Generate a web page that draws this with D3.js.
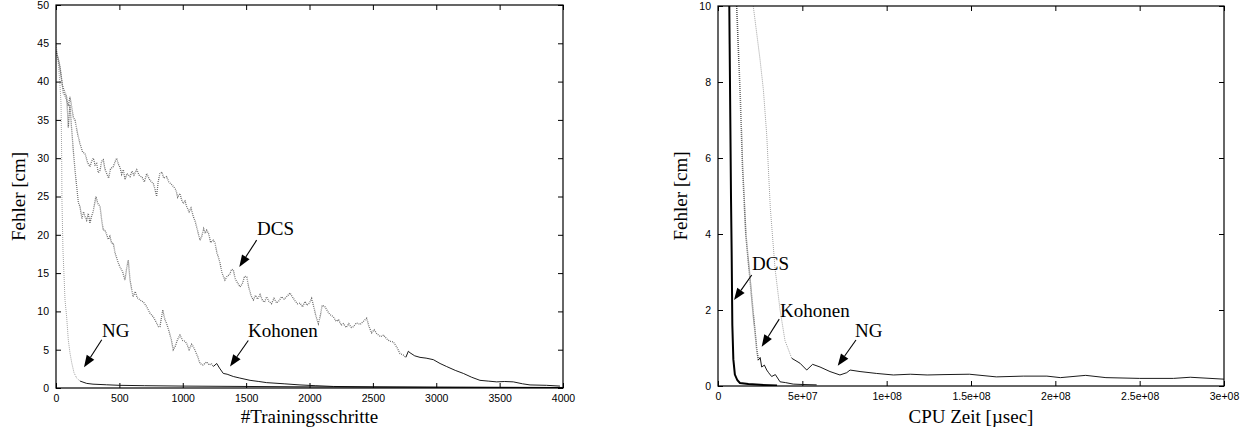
<!DOCTYPE html>
<html>
<head>
<meta charset="utf-8">
<script src="https://cdn.jsdelivr.net/npm/d3@7"></script>
<style>
  body { margin: 0; background: #fff; }
  .tick text { font-family: "Liberation Sans", Arial, sans-serif; font-size: 10.5px; fill: #000; }
  .lbl { font-family: "Liberation Serif", "Times New Roman", serif; font-size: 19px; fill: #000; }
</style>
</head>
<body>
<div id="chart"></div>
<script>
// ---- data ----
// left panel: error [cm] over training steps
var ngTrain = [[0,45],[15,43],[30,40],[40,37],[45,30],[47,24.5],[55,18],[65,14],[71,11.5],[84,9.3],[97,6.3],[110,4.6],
  [124,3.3],[142,2.0],[163,1.3],[190,0.9],[242,0.6],[292,0.5],[400,0.42],[500,0.35],[700,0.3],[1000,0.25],[1500,0.2],
  [2000,0.15],[2500,0.12],[3000,0.1],[3500,0.08],[4000,0.07]]
var kohTrain = [[0,44],[25,42.5],[50,39.5],[70,38.6],[85,38],[97,34],[110,37],[120,34.5],[136,31.1],[150,28.5],
  [163,26.3],[176,24.2],[189,23.7],[205,22.1],[217,23.0],[229,22.4],[242,21.9],[255,22.8],[268,21.5],[280,22.4],
  [293,23],[304,24.0],[315,25],[330,24.1],[347,23.7],[360,22.0],[373,20.6],[387,20.6],[400,20.0],[412,19.4],
  [425,19.8],[439,18.9],[452,18.9],[465,17.7],[480,16.9],[492,16.3],[505,15.8],[525,15.2],[544,14.1],[557,15.6],
  [570,16.7],[585,14.0],[608,11.9],[625,12.6],[640,11.8],[663,11.5],[690,11.2],[716,10.6],[740,9.8],[767,9.3],
  [790,8.6],[808,8.0],[820,8.0],[842,10.2],[858,9.0],[873,8.4],[890,7.5],[910,6.3],[925,5.0],[940,5.4],[958,6.3],
  [978,6.9],[1000,6.2],[1018,6.1],[1031,5.8],[1050,5.0],[1070,5.7],[1083,5.4],[1100,4.8],[1120,4.0],[1136,3.2],
  [1160,3.0],[1189,3.4],[1210,3.0],[1225,3.2],[1241,2.8],[1268,3.2],[1290,2.6],[1320,1.9],[1350,1.8],[1399,1.5],
  [1450,1.3],[1531,1.0],[1600,0.85],[1662,0.7],[1800,0.55],[1925,0.4],[2050,0.3],[2188,0.2],[2500,0.15],[3000,0.1],
  [3500,0.08],[4000,0.06]]
var dcsTrain = [[0,44],[32,41.9],[58,38.5],[70,38.2],[84,37.6],[97,36.8],[110,38],[124,36.7],[137,35.3],[150,35],
  [170,33.2],[189,31.9],[210,30.8],[229,30.6],[250,29.4],[268,28.9],[281,29.6],[295,30],[308,29.1],[321,29.3],
  [334,28.1],[347,28.4],[360,29.6],[373,29.8],[386,28.6],[400,28],[415,27.4],[430,28.6],[452,28.9],[465,29.5],
  [479,30],[492,29.2],[505,28.8],[518,27.9],[531,28.5],[545,27.2],[560,28.0],[584,27.6],[600,28.3],[615,27.8],
  [637,28.5],[655,27.8],[680,27.5],[697,26.9],[716,28],[735,27.3],[752,26.9],[768,26.7],[780,26.0],[794,25],
  [807,27.0],[820,28],[835,28.2],[850,27.4],[873,27.6],[890,26.9],[910,26.6],[926,26.3],[945,25.9],[960,24.9],
  [978,25.4],[990,24.6],[1004,24.1],[1018,24.4],[1031,23.7],[1050,23.0],[1065,23.5],[1083,22.4],[1097,21.8],
  [1110,21],[1122,20.2],[1136,19.3],[1150,19.8],[1165,20.8],[1178,20.2],[1189,20.6],[1205,20.1],[1220,19.0],
  [1241,19.3],[1255,18.9],[1270,17.6],[1283,17.0],[1294,16.3],[1310,15.0],[1333,14.1],[1350,14.6],[1370,14.8],
  [1385,15.5],[1399,15.4],[1415,14.2],[1430,13.8],[1452,13.2],[1470,13.6],[1488,14.6],[1505,14.5],[1520,13.2],
  [1540,12.0],[1557,11.5],[1575,12.1],[1590,11.6],[1610,12.2],[1630,11.4],[1645,11.2],[1662,11.9],[1680,11.3],
  [1700,11.0],[1720,11.7],[1741,11.1],[1760,11.4],[1780,11.9],[1800,11.6],[1825,12.0],[1846,12.4],[1865,11.9],
  [1885,11.4],[1905,11.0],[1925,11.1],[1945,10.6],[1965,11.3],[1980,10.8],[2000,11.1],[2017,11.7],[2035,10.5],
  [2052,9.3],[2070,8.4],[2085,9.4],[2100,10.8],[2122,10.6],[2140,10.1],[2160,9.6],[2188,9.3],[2210,8.7],[2230,8.9],
  [2250,8.2],[2267,8.4],[2290,7.9],[2310,8.4],[2330,7.9],[2346,8.0],[2370,8.5],[2400,8.3],[2425,8.7],[2451,9.1],
  [2470,8.0],[2490,7.2],[2510,7.6],[2530,7.1],[2560,6.7],[2585,6.9],[2609,6.4],[2635,6.1],[2662,6.0],[2690,5.3],
  [2714,4.5],[2740,4.3],[2760,4.0],[2780,4.8],[2793,4.6],[2830,4.2],[2872,4.0],[2920,3.9],[2977,3.7],[3030,3.2],
  [3082,2.8],[3150,2.3],[3214,1.9],[3280,1.4],[3345,1.0],[3410,0.9],[3477,0.8],[3540,0.85],[3608,0.8],[3680,0.55],
  [3740,0.4],[3870,0.35],[3976,0.25]]

// right panel: error [cm] over cpu time [usec]
var dcsCpu = [[6.5e6,11],[6.9e6,9],[7.3e6,7],[7.7e6,5],[8.1e6,3.5],[8.5e6,1.6],[9.1e6,0.7],[1.0e7,0.3],[1.15e7,0.15],
  [1.3e7,0.08],[1.8e7,0.05],[2.5e7,0.03],[3.5e7,0.01]]
var kohCpu = [[1.05e7,11],[1.11e7,10],[1.25e7,8.4],[1.33e7,7.5],[1.45e7,5.8],[1.65e7,4.0],[1.9e7,2.8],[2.09e7,1.9],
  [2.29e7,1.0],[2.39e7,0.68],[2.5e7,0.75],[2.59e7,0.5],[2.75e7,0.55],[2.89e7,0.42],[3.0e7,0.35],[3.18e7,0.25],
  [3.4e7,0.3],[3.68e7,0.11],[4.0e7,0.09],[4.46e7,0.05],[5.0e7,0.04],[5.85e7,0.03]]
var ngCpu = [[1.95e7,11],[2.09e7,10],[2.49e7,8.6],[2.69e7,7.8],[2.89e7,6.6],[3.1e7,4.7],[3.38e7,3.1],[3.68e7,2.0],
  [3.97e7,1.2],[4.37e7,0.73],[4.86e7,0.6],[5.26e7,0.42],[5.61e7,0.57],[6.05e7,0.5],[6.64e7,0.38],[7.23e7,0.29],
  [7.63e7,0.35],[7.83e7,0.42],[8.42e7,0.38],[9.41e7,0.33],[1.04e8,0.29],[1.14e8,0.31],[1.24e8,0.29],[1.34e8,0.3],
  [1.49e8,0.31],[1.65e8,0.24],[1.81e8,0.26],[1.95e8,0.26],[2.03e8,0.22],[2.18e8,0.28],[2.3e8,0.22],[2.5e8,0.2],
  [2.7e8,0.2],[2.8e8,0.23],[3e8,0.18]]

var trainTicks = [0,500,1000,1500,2000,2500,3000,3500,4000]
var trainYTicks = [0,5,10,15,20,25,30,35,40,45,50]
var cpuTicks = [0,5e7,1e8,1.5e8,2e8,2.5e8,3e8]
var cpuTickLabels = ['0','5e+07','1e+08','1.5e+08','2e+08','2.5e+08','3e+08']
var cpuYTicks = [0,2,4,6,8,10]

// annotations: text position, arrow tail, arrow tip (data units)
var trainNotes = [
  {text:'NG', tx:363, ty:6.65, x1:361, y1:6.3, x2:221, y2:2.7},
  {text:'DCS', tx:1586, ty:20.0, x1:1583, y1:19.3, x2:1446, y2:15.8},
  {text:'Kohonen', tx:1515, ty:6.65, x1:1517, y1:6.2, x2:1373, y2:2.8}]
var cpuNotes = [
  {text:'DCS', tx:2.02e7, ty:3.05, x1:2.0e7, y1:2.92, x2:9.5e6, y2:2.26},
  {text:'Kohonen', tx:3.68e7, ty:1.82, x1:3.63e7, y1:1.76, x2:2.59e7, y2:1.03},
  {text:'NG', tx:8.12e7, ty:1.29, x1:8.18e7, y1:1.21, x2:7.1e7, y2:0.53}]

var width = 1245, height = 429
var svg = d3.select('#chart').append('svg').attr('width', width).attr('height', height)

function panel(id, box, xDom, yDom, xTicks, xFmt, yTicks, xLabel, series, notes) {
  var x = d3.scaleLinear().domain(xDom).range([box.l, box.r])
  var y = d3.scaleLinear().domain(yDom).range([box.b, box.t])
  var g = svg.append('g')

  g.append('clipPath').attr('id', id).append('rect')
    .attr('x', box.l).attr('y', box.t).attr('width', box.r - box.l).attr('height', box.b - box.t)

  var line = d3.line().x(d => x(d[0])).y(d => y(d[1]))
  var plot = g.append('g').attr('clip-path', 'url(#' + id + ')')
  series.forEach(function(s) {
    // steep, noisy part looks dotted grey, the flat tail is solid black
    var k = s.data.findIndex(d => d[1] < s.thr)
    if (k < 0) k = s.data.length - 1
    if (k > 0)
      plot.append('path').attr('d', line(s.data.slice(0, k + 1))).attr('fill', 'none')
        .attr('stroke', s.dot || '#666').attr('stroke-width', s.dw || 1.3).attr('stroke-dasharray', '0.9 1.1')
    plot.append('path').attr('d', line(s.data.slice(k))).attr('fill', 'none')
      .attr('stroke', '#000').attr('stroke-width', s.w || 0.9)
  })

  // axes with inward ticks, mirrored
  g.append('g').attr('transform', 'translate(0,' + box.b + ')')
    .call(d3.axisBottom(x).tickValues(xTicks).tickFormat(xFmt).tickSize(-5).tickPadding(7))
  g.append('g').attr('transform', 'translate(0,' + box.t + ')')
    .call(d3.axisTop(x).tickValues(xTicks).tickSize(-5).tickFormat(''))
  g.append('g').attr('transform', 'translate(' + box.l + ',0)')
    .call(d3.axisLeft(y).tickValues(yTicks).tickSize(-5).tickPadding(7))
  g.append('g').attr('transform', 'translate(' + box.r + ',0)')
    .call(d3.axisRight(y).tickValues(yTicks).tickSize(-5).tickFormat(''))
  g.selectAll('.domain').remove()
  g.selectAll('.tick line').attr('stroke', '#000')

  g.append('rect').attr('x', box.l).attr('y', box.t).attr('width', box.r - box.l).attr('height', box.b - box.t)
    .attr('fill', 'none').attr('stroke', '#000').attr('stroke-width', 1.2)

  g.append('text').attr('class', 'lbl').attr('text-anchor', 'middle')
    .attr('transform', 'translate(' + (box.l - 31) + ',' + ((box.t + box.b) / 2) + ') rotate(-90)')
    .text('Fehler [cm]')
  g.append('text').attr('class', 'lbl').attr('text-anchor', 'middle')
    .attr('x', (box.l + box.r) / 2).attr('y', 423).text(xLabel)

  notes.forEach(function(n) {
    g.append('text').attr('class', 'lbl').attr('x', x(n.tx)).attr('y', y(n.ty)).text(n.text)
    var ax = x(n.x1), ay = y(n.y1), bx = x(n.x2), by = y(n.y2)
    var len = Math.hypot(bx - ax, by - ay), ux = (bx - ax) / len, uy = (by - ay) / len
    var hl = 12, hw = 4.5
    var cx = bx - ux * hl, cy = by - uy * hl
    g.append('line').attr('x1', ax).attr('y1', ay).attr('x2', cx).attr('y2', cy)
      .attr('stroke', '#000').attr('stroke-width', 1.1)
    g.append('path').attr('fill', '#000')
      .attr('d', 'M' + bx + ',' + by + 'L' + (cx - uy * hw) + ',' + (cy + ux * hw) + 'L' + (cx + uy * hw) + ',' + (cy - ux * hw) + 'Z')
  })
}

panel('clipL', {l:56, r:563, t:5, b:388}, [0, 4000], [0, 50], trainTicks, d3.format('d'), trainYTicks,
  '#Trainingsschritte',
  [{data: ngTrain, thr: 1.2, dot: '#999', dw: 1}, {data: kohTrain, thr: 3}, {data: dcsTrain, thr: 4.2}], trainNotes)

panel('clipR', {l:718, r:1224, t:6, b:386}, [0, 3e8], [0, 10], cpuTicks, (d, i) => cpuTickLabels[i], cpuYTicks,
  'CPU Zeit [\u00b5sec]',
  [{data: dcsCpu, thr: 20, w: 2}, {data: kohCpu, thr: 0.9, dot: '#444', dw: 1.6}, {data: ngCpu, thr: 0.75, dot: '#999', dw: 1}], cpuNotes)
</script>
</body>
</html>
